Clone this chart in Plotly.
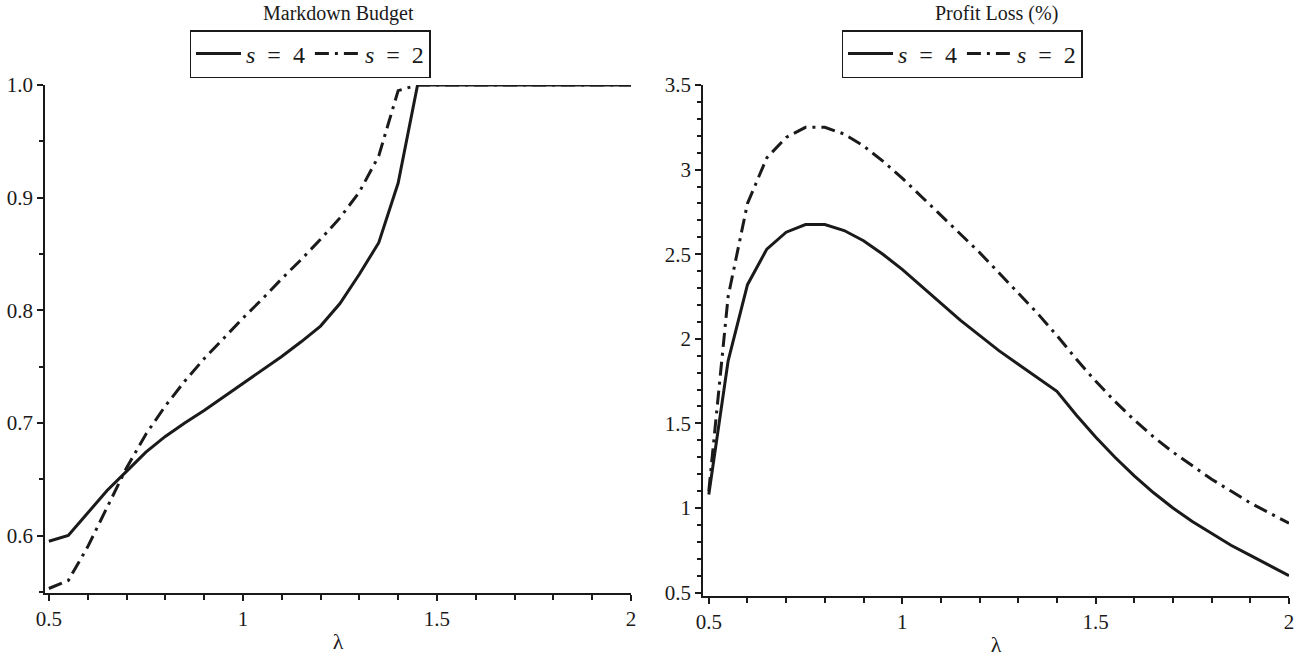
import plotly.graph_objects as go

lam = [0.5, 0.55, 0.6, 0.65, 0.7, 0.75, 0.8, 0.85, 0.9, 0.95, 1.0, 1.05, 1.1, 1.15, 1.2,
       1.25, 1.3, 1.35, 1.4, 1.45, 1.5, 1.55, 1.6, 1.65, 1.7, 1.75, 1.8, 1.85, 1.9, 1.95, 2.0]

budget_s4 = [0.595, 0.600, 0.620, 0.640, 0.657, 0.674, 0.688, 0.700, 0.711, 0.723, 0.735,
             0.747, 0.759, 0.772, 0.786, 0.806, 0.832, 0.860, 0.913, 1.0, 1.0, 1.0, 1.0,
             1.0, 1.0, 1.0, 1.0, 1.0, 1.0, 1.0, 1.0]
budget_s2 = [0.553, 0.560, 0.590, 0.625, 0.660, 0.690, 0.715, 0.737, 0.757, 0.775, 0.793,
             0.810, 0.828, 0.845, 0.863, 0.882, 0.905, 0.937, 0.995, 1.0, 1.0, 1.0, 1.0,
             1.0, 1.0, 1.0, 1.0, 1.0, 1.0, 1.0, 1.0]

loss_s4 = [1.08, 1.87, 2.32, 2.53, 2.63, 2.675, 2.675, 2.64, 2.58, 2.50, 2.41, 2.31, 2.21,
           2.11, 2.02, 1.93, 1.85, 1.77, 1.69, 1.55, 1.42, 1.30, 1.19, 1.09, 1.00, 0.92,
           0.85, 0.78, 0.72, 0.66, 0.60]
loss_s2 = [1.10, 2.25, 2.80, 3.07, 3.19, 3.25, 3.25, 3.21, 3.14, 3.05, 2.95, 2.84, 2.73,
           2.62, 2.51, 2.39, 2.27, 2.15, 2.02, 1.88, 1.75, 1.63, 1.52, 1.42, 1.33, 1.25,
           1.17, 1.10, 1.03, 0.97, 0.91]

left_ticks = [0.6, 0.7, 0.8, 0.9, 1.0]
left_ticktext = ["0.6", "0.7", "0.8", "0.9", "1.0"]
right_ticks = [0.5, 1, 1.5, 2, 2.5, 3, 3.5]
right_ticktext = ["0.5", "1", "1.5", "2", "2.5", "3", "3.5"]
x_ticks = [0.5, 1, 1.5, 2]
x_ticktext = ["0.5", "1", "1.5", "2"]
name_s4 = "<i>s</i>\u2002=\u20024"
name_s2 = "<i>s</i>\u2002=\u20022"

FONT = "Liberation Serif"
INK = "#1a1a1a"
DASHDOT = "14px,6px,3px,6px"
W, H = 1303, 657

fig = go.Figure()
fig.add_trace(go.Scatter(x=lam, y=budget_s4, mode="lines", name=name_s4,
                         line=dict(color=INK, width=3), xaxis="x", yaxis="y", legend="legend"))
fig.add_trace(go.Scatter(x=lam, y=budget_s2, mode="lines", name=name_s2,
                         line=dict(color=INK, width=3, dash=DASHDOT), xaxis="x", yaxis="y", legend="legend"))
fig.add_trace(go.Scatter(x=lam, y=loss_s4, mode="lines", name=name_s4,
                         line=dict(color=INK, width=3), xaxis="x2", yaxis="y2", legend="legend2"))
fig.add_trace(go.Scatter(x=lam, y=loss_s2, mode="lines", name=name_s2,
                         line=dict(color=INK, width=3, dash=DASHDOT), xaxis="x2", yaxis="y2", legend="legend2"))

def px_x(p):
    return p / W

def px_y(p):
    return 1 - p / H

axis_common = dict(showgrid=False, zeroline=False, showline=True, linecolor=INK, linewidth=1.5,
                   ticks="outside", ticklen=6, tickwidth=1.5, tickcolor=INK, automargin=False,
                   tickfont=dict(family=FONT, size=21, color=INK))
minor_x = dict(dtick=0.1, tick0=0.5, ticks="outside", ticklen=5, tickwidth=1.5, tickcolor=INK)
xtitle = dict(text="λ", font=dict(family=FONT, size=22, color=INK), standoff=4)

legend_common = dict(orientation="h", xanchor="center", yanchor="top",
                     bordercolor=INK, borderwidth=1.5, bgcolor="white",
                     font=dict(family=FONT, size=24, color=INK), itemwidth=45, tracegroupgap=0)

fig.update_layout(
    template="none",
    width=W, height=H, autosize=False,
    margin=dict(l=0, r=0, t=0, b=0, autoexpand=False),
    paper_bgcolor="white", plot_bgcolor="white",
    font=dict(family=FONT, color=INK),
    xaxis=dict(domain=[px_x(45), px_x(631)], range=[0.49, 2.0], anchor="y",
               tickvals=x_ticks, ticktext=x_ticktext, minor=minor_x, title=xtitle,
               **axis_common),
    yaxis=dict(domain=[px_y(593), px_y(85)], range=[0.549, 1.0], anchor="x",
               tickvals=left_ticks, ticktext=left_ticktext,
               minor=dict(dtick=0.05, tick0=0.5, ticks="outside", ticklen=4, tickwidth=1.5, tickcolor=INK),
               **axis_common),
    xaxis2=dict(domain=[px_x(703), px_x(1289)], range=[0.485, 2.0], anchor="y2",
                tickvals=x_ticks, ticktext=x_ticktext, minor=minor_x, title=xtitle,
                **axis_common),
    yaxis2=dict(domain=[px_y(596), px_y(85)], range=[0.48, 3.5], anchor="x2",
                tickvals=right_ticks, ticktext=right_ticktext,
                minor=dict(dtick=0.1, tick0=0.5, ticks="outside", ticklen=4, tickwidth=1.5, tickcolor=INK),
                **axis_common),
    legend=dict(x=px_x(310), y=px_y(30), **legend_common),
    legend2=dict(x=px_x(962), y=px_y(30), **legend_common),
    annotations=[
        dict(text="Markdown Budget", x=px_x(338), y=px_y(13), xref="paper", yref="paper",
             showarrow=False, font=dict(family=FONT, size=20, color=INK), xanchor="center", yanchor="middle"),
        dict(text="Profit Loss (%)", x=px_x(996), y=px_y(13), xref="paper", yref="paper",
             showarrow=False, font=dict(family=FONT, size=20, color=INK), xanchor="center", yanchor="middle"),
    ],
)

fig.write_html("out.html")
